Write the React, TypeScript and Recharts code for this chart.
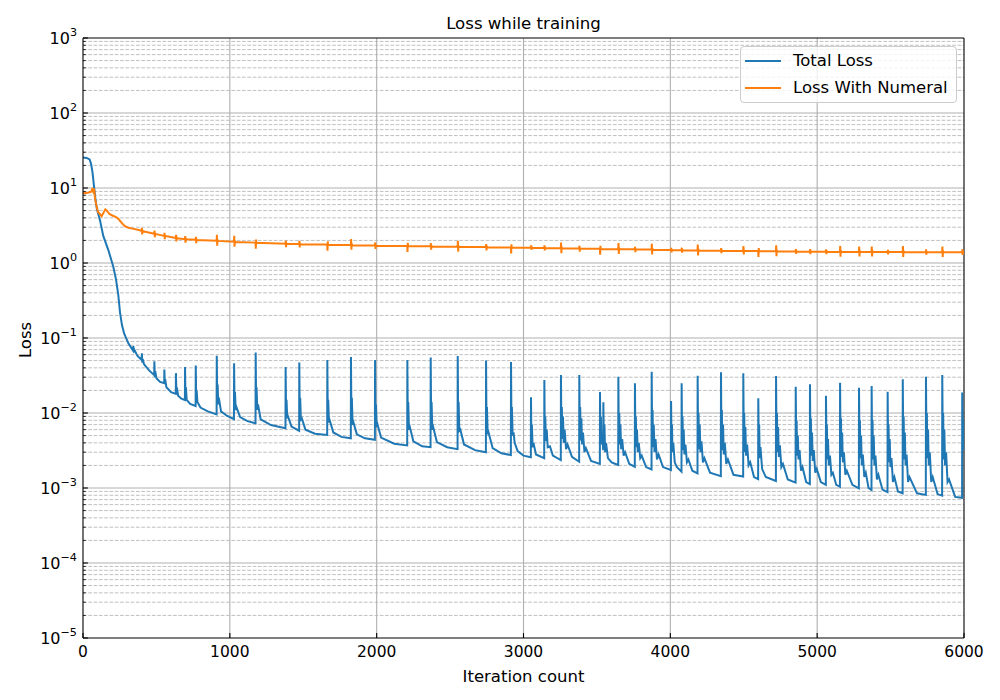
import React from 'react';
import { LineChart, Line, XAxis, YAxis, ReferenceLine, Legend, Label } from 'recharts';

const chartTitle = 'Loss while training';
const xLabel = 'Iteration count';
const yLabel = 'Loss';
const seriesNames = ['Total Loss', 'Loss With Numeral'];
const seriesColors = ['#1f77b4', '#ff7f0e'];

const xTicks = [0, 1000, 2000, 3000, 4000, 5000, 6000];
const yExponents = [-5, -4, -3, -2, -1, 0, 1, 2, 3];
const yMinorMultipliers = [2, 3, 4, 5, 6, 7, 8, 9];

// Total Loss: [iteration, loss]
const totalLossEarly: [number, number][] = [
  [0, 25.5], [25, 25.2], [45, 24], [55, 21], [65, 16], [75, 10.5], [85, 7], [95, 5.2], [116, 3.7], [138, 2.3],
  [172, 1.5], [206, 0.9], [225, 0.6], [240, 0.38], [252, 0.22], [265, 0.15], [280, 0.115], [309, 0.085], [341, 0.068],
  [343, 0.078], [346, 0.064], [349, 0.07], [370, 0.058], [399, 0.051],
  [401, 0.0625], [404, 0.047], [407, 0.052], [415, 0.045], [450, 0.037], [485, 0.032],
  [486, 0.049], [489, 0.03], [492, 0.036], [500, 0.029], [525, 0.026], [553, 0.025],
  [554, 0.038], [557, 0.024], [560, 0.028], [568, 0.022], [600, 0.019], [632, 0.018],
  [633, 0.034], [636, 0.019], [639, 0.022], [648, 0.017], [670, 0.0155], [694, 0.0149],
  [695, 0.041], [698, 0.016], [701, 0.022], [706, 0.015], [730, 0.0132], [767, 0.0124],
  [768, 0.043], [771, 0.015], [774, 0.02], [779, 0.014], [800, 0.0118], [850, 0.0105], [910, 0.0096],
  [911, 0.058], [914, 0.016], [917, 0.024], [921, 0.013], [925, 0.016], [940, 0.0105], [980, 0.0092], [1028, 0.0083],
  [1029, 0.046], [1032, 0.013], [1035, 0.019], [1040, 0.011], [1045, 0.012], [1070, 0.0088], [1120, 0.0078], [1175, 0.0073],
  [1176, 0.064], [1179, 0.014], [1182, 0.022], [1187, 0.011], [1192, 0.013], [1210, 0.0082], [1280, 0.0069], [1379, 0.00625],
  [1380, 0.041], [1383, 0.01], [1386, 0.015], [1391, 0.0085], [1396, 0.009], [1420, 0.0066], [1472, 0.0058],
  [1473, 0.047], [1476, 0.01], [1479, 0.016], [1484, 0.0082], [1490, 0.0085], [1515, 0.006], [1580, 0.0053], [1663, 0.0051],
];

const totalLossMid: [number, number][] = [
  [1664, 0.051], [1667, 0.009], [1670, 0.015], [1675, 0.0075], [1680, 0.008], [1705, 0.0055], [1760, 0.0048], [1824, 0.0046],
  [1825, 0.056], [1828, 0.009], [1831, 0.016], [1836, 0.007], [1842, 0.0075], [1865, 0.0052], [1920, 0.0046], [1988, 0.0044],
  [1989, 0.051], [1992, 0.008], [1995, 0.013], [2000, 0.0065], [2006, 0.007], [2030, 0.0047], [2120, 0.0039], [2208, 0.0037],
  [2209, 0.051], [2212, 0.008], [2215, 0.014], [2220, 0.006], [2226, 0.0065], [2250, 0.0042], [2310, 0.0036], [2367, 0.0035],
  [2368, 0.055], [2371, 0.008], [2374, 0.014], [2379, 0.006], [2385, 0.0065], [2410, 0.0041], [2480, 0.0035], [2551, 0.0033],
  [2552, 0.0575], [2555, 0.008], [2558, 0.014], [2563, 0.0058], [2570, 0.006], [2595, 0.0038], [2670, 0.0032], [2744, 0.003],
  [2745, 0.05], [2748, 0.007], [2751, 0.012], [2756, 0.0052], [2762, 0.0055], [2790, 0.0034], [2850, 0.0029], [2914, 0.00275],
  [2915, 0.048], [2918, 0.007], [2921, 0.012], [2926, 0.005], [2932, 0.0055], [2940, 0.004], [2960, 0.0031], [3000, 0.0027], [3050, 0.00257],
  [3051, 0.0162], [3054, 0.004], [3057, 0.007], [3062, 0.0035], [3068, 0.004], [3085, 0.0028], [3141, 0.0025],
  [3142, 0.0275], [3145, 0.005], [3148, 0.009], [3153, 0.0042], [3158, 0.006], [3165, 0.0035], [3180, 0.0036], [3200, 0.0027], [3254, 0.00236],
  [3255, 0.032], [3258, 0.006], [3261, 0.012], [3265, 0.0045], [3269, 0.009], [3274, 0.004], [3280, 0.006], [3290, 0.0033], [3300, 0.0038], [3330, 0.0026], [3379, 0.00224],
  [3380, 0.032], [3383, 0.006], [3386, 0.012], [3390, 0.0043], [3394, 0.0085], [3399, 0.0038], [3405, 0.0055], [3415, 0.003], [3425, 0.0034], [3460, 0.0023], [3520, 0.0021],
];

const totalLossLate: [number, number][] = [
  [3521, 0.019], [3524, 0.005], [3527, 0.009], [3531, 0.0038], [3536, 0.005], [3543, 0.0032],
  [3544, 0.0139], [3547, 0.004], [3551, 0.007], [3556, 0.003], [3562, 0.004], [3575, 0.0025], [3600, 0.0022], [3645, 0.00203],
  [3646, 0.0305], [3649, 0.005], [3652, 0.01], [3656, 0.0038], [3660, 0.007], [3665, 0.0033], [3672, 0.0045], [3682, 0.0027], [3692, 0.003], [3720, 0.0021], [3758, 0.00192],
  [3759, 0.0249], [3762, 0.0045], [3765, 0.009], [3769, 0.0035], [3773, 0.006], [3778, 0.003], [3785, 0.004], [3795, 0.0025], [3805, 0.0027], [3835, 0.0019], [3872, 0.00177],
  [3873, 0.0356], [3876, 0.005], [3879, 0.011], [3883, 0.0035], [3887, 0.007], [3892, 0.003], [3899, 0.0045], [3909, 0.0024], [3920, 0.0028], [3950, 0.0019], [4004, 0.00174],
  [4005, 0.0145], [4008, 0.004], [4011, 0.007], [4015, 0.003], [4020, 0.004], [4030, 0.0022], [4045, 0.0019], [4076, 0.00165],
  [4077, 0.0249], [4080, 0.0045], [4083, 0.009], [4087, 0.0032], [4091, 0.006], [4096, 0.0028], [4103, 0.0038], [4113, 0.0022], [4123, 0.0024], [4150, 0.0017], [4185, 0.00157],
  [4186, 0.0314], [4189, 0.005], [4192, 0.01], [4196, 0.0033], [4200, 0.007], [4205, 0.003], [4212, 0.0042], [4222, 0.0022], [4232, 0.0025], [4270, 0.0016], [4344, 0.00144],
  [4345, 0.0349], [4348, 0.005], [4351, 0.011], [4355, 0.0032], [4359, 0.007], [4364, 0.0028], [4371, 0.004], [4381, 0.0021], [4392, 0.0024], [4430, 0.0015], [4496, 0.00142],
  [4497, 0.0338], [4500, 0.005], [4503, 0.01], [4507, 0.003], [4511, 0.0065], [4516, 0.0027], [4523, 0.0038], [4533, 0.002], [4544, 0.0022], [4570, 0.0014], [4598, 0.00131],
  [4599, 0.0157], [4602, 0.004], [4605, 0.007], [4609, 0.0025], [4614, 0.0035], [4625, 0.0018], [4650, 0.0014], [4719, 0.00124],
  [4720, 0.0311], [4723, 0.005], [4726, 0.01], [4730, 0.003], [4734, 0.0065], [4739, 0.0026], [4746, 0.0037], [4756, 0.0019], [4767, 0.0021], [4800, 0.0013], [4853, 0.00118],
  [4854, 0.0224], [4857, 0.0045], [4860, 0.008], [4864, 0.0027], [4868, 0.005], [4873, 0.0024], [4880, 0.0032], [4890, 0.0017], [4900, 0.0019], [4925, 0.0012], [4950, 0.00113],
  [4951, 0.0241], [4954, 0.0045], [4957, 0.0085], [4961, 0.0027], [4965, 0.0055], [4970, 0.0023], [4977, 0.0032], [4987, 0.0016], [4997, 0.0018], [5025, 0.0012], [5059, 0.0011],
  [5060, 0.017], [5063, 0.004], [5066, 0.007], [5070, 0.0024], [5074, 0.0045], [5079, 0.002], [5087, 0.0027], [5097, 0.0015], [5107, 0.0016], [5130, 0.0011], [5155, 0.00104],
  [5156, 0.0253], [5159, 0.0045], [5162, 0.0085], [5166, 0.0026], [5170, 0.0055], [5175, 0.0022], [5182, 0.003], [5192, 0.0015], [5202, 0.0017], [5240, 0.0011], [5284, 0.00099],
  [5285, 0.0217], [5288, 0.004], [5291, 0.008], [5295, 0.0025], [5299, 0.005], [5304, 0.002], [5311, 0.0028], [5321, 0.0014], [5331, 0.0016], [5350, 0.001], [5370, 0.00094],
  [5371, 0.0229], [5374, 0.004], [5377, 0.008], [5381, 0.0024], [5385, 0.005], [5390, 0.002], [5397, 0.0027], [5407, 0.0013], [5417, 0.0015], [5445, 0.00095], [5479, 0.00088],
  [5480, 0.0192], [5483, 0.004], [5486, 0.007], [5490, 0.0022], [5494, 0.0045], [5499, 0.0019], [5506, 0.0025], [5516, 0.0012], [5526, 0.0014], [5550, 0.0009], [5582, 0.00085],
  [5583, 0.0281], [5586, 0.0045], [5589, 0.009], [5593, 0.0024], [5597, 0.0055], [5602, 0.002], [5609, 0.0028], [5619, 0.0012], [5629, 0.0014], [5680, 0.00085], [5740, 0.00081],
  [5741, 0.0305], [5744, 0.005], [5747, 0.01], [5751, 0.0025], [5755, 0.006], [5760, 0.002], [5767, 0.003], [5777, 0.0012], [5787, 0.0014], [5820, 0.00083], [5851, 0.00079],
  [5852, 0.032], [5855, 0.005], [5858, 0.01], [5862, 0.0024], [5866, 0.006], [5871, 0.002], [5878, 0.003], [5888, 0.0012], [5898, 0.0013], [5940, 0.00076], [5987, 0.00074],
  [5988, 0.0187], [5991, 0.004], [5994, 0.008], [5997, 0.0035], [6000, 0.0032],
];

// Loss With Numeral: [iteration, loss]
const numeralLossEarly: [number, number][] = [
  [0, 8.5], [20, 8.6], [40, 8.7], [55, 8.9], [62, 9.6], [68, 9.0], [75, 9.9], [82, 7.2], [92, 5.8], [102, 4.8],
  [115, 4.5], [127, 4.2], [140, 4.7], [152, 5.2], [165, 4.9], [180, 4.5], [200, 4.3], [225, 4.1], [245, 3.8],
  [265, 3.4], [285, 3.1], [310, 2.95], [345, 2.85], [380, 2.75],
  [399, 2.67], [401, 2.94], [403, 2.4], [405, 2.75], [407, 2.66],
  [485, 2.45], [487, 2.7], [489, 2.2], [491, 2.52], [493, 2.44],
  [553, 2.3], [555, 2.53], [557, 2.07], [559, 2.37], [561, 2.29],
  [632, 2.15], [634, 2.37], [636, 1.94], [638, 2.22], [640, 2.14],
  [694, 2.08], [696, 2.29], [698, 1.87], [700, 2.15], [702, 2.07],
  [767, 2.04], [769, 2.24], [771, 1.84], [773, 2.1], [775, 2.03],
  [910, 1.98], [912, 2.38], [914, 1.7], [916, 2.06], [918, 1.97],
  [1028, 1.92], [1030, 2.3], [1032, 1.65], [1034, 2.0], [1036, 1.91],
  [1175, 1.87], [1177, 1.55], [1179, 2.06], [1181, 1.8], [1183, 1.86],
  [1379, 1.81], [1381, 1.99], [1383, 1.63], [1385, 1.87], [1387, 1.8],
  [1472, 1.79], [1474, 1.97], [1476, 1.61], [1478, 1.85], [1480, 1.78],
];

const numeralLossMid: [number, number][] = [
  [1663, 1.76], [1665, 1.46], [1667, 1.94], [1669, 1.7], [1671, 1.75],
  [1824, 1.74], [1826, 2.09], [1828, 1.5], [1830, 1.82], [1832, 1.73],
  [1988, 1.71], [1990, 1.88], [1992, 1.54], [1994, 1.76], [1996, 1.7],
  [2208, 1.69], [2210, 1.4], [2212, 1.86], [2214, 1.64], [2216, 1.68],
  [2367, 1.67], [2369, 1.84], [2371, 1.5], [2373, 1.72], [2375, 1.66],
  [2551, 1.65], [2553, 1.98], [2555, 1.42], [2557, 1.72], [2559, 1.64],
  [2744, 1.63], [2746, 1.79], [2748, 1.47], [2750, 1.68], [2752, 1.62],
  [2914, 1.61], [2916, 1.34], [2918, 1.77], [2920, 1.56], [2922, 1.6],
  [3050, 1.6], [3052, 1.72], [3054, 1.5], [3056, 1.64], [3058, 1.59],
  [3141, 1.59], [3143, 1.72], [3145, 1.47], [3147, 1.63], [3149, 1.58],
  [3254, 1.57], [3256, 1.88], [3258, 1.35], [3260, 1.64], [3262, 1.56],
  [3379, 1.56], [3381, 1.7], [3383, 1.42], [3385, 1.6], [3387, 1.55],
  [3520, 1.55], [3522, 1.29], [3524, 1.7], [3526, 1.5], [3528, 1.54],
  [3645, 1.53], [3647, 1.84], [3649, 1.32], [3651, 1.6], [3653, 1.52],
  [3758, 1.52], [3760, 1.65], [3762, 1.39], [3764, 1.56], [3766, 1.51],
];

const numeralLossLate: [number, number][] = [
  [3872, 1.51], [3874, 1.81], [3876, 1.3], [3878, 1.58], [3880, 1.5],
  [4004, 1.49], [4006, 1.6], [4008, 1.38], [4010, 1.53], [4012, 1.48],
  [4076, 1.48], [4078, 1.6], [4080, 1.37], [4082, 1.52], [4084, 1.47],
  [4185, 1.47], [4187, 1.76], [4189, 1.26], [4191, 1.54], [4193, 1.46],
  [4344, 1.46], [4346, 1.58], [4348, 1.35], [4350, 1.5], [4352, 1.45],
  [4496, 1.45], [4498, 1.68], [4500, 1.3], [4502, 1.51], [4504, 1.44],
  [4598, 1.44], [4600, 1.2], [4602, 1.58], [4604, 1.4], [4606, 1.43],
  [4719, 1.43], [4721, 1.72], [4723, 1.23], [4725, 1.5], [4727, 1.42],
  [4853, 1.42], [4855, 1.54], [4857, 1.32], [4859, 1.46], [4861, 1.41],
  [4950, 1.415], [4952, 1.53], [4954, 1.31], [4956, 1.45], [4958, 1.41],
  [5059, 1.41], [5061, 1.52], [5063, 1.31], [5065, 1.45], [5067, 1.405],
  [5155, 1.41], [5157, 1.69], [5159, 1.21], [5161, 1.48], [5163, 1.405],
  [5284, 1.405], [5286, 1.66], [5288, 1.22], [5290, 1.47], [5292, 1.4],
  [5370, 1.4], [5372, 1.66], [5374, 1.22], [5376, 1.47], [5378, 1.4],
  [5479, 1.4], [5481, 1.5], [5483, 1.3], [5485, 1.44], [5487, 1.4],
  [5582, 1.4], [5584, 1.68], [5586, 1.2], [5588, 1.47], [5590, 1.395],
  [5740, 1.395], [5742, 1.52], [5744, 1.29], [5746, 1.44], [5748, 1.39],
  [5851, 1.39], [5853, 1.66], [5855, 1.2], [5857, 1.46], [5859, 1.39],
  [5987, 1.39], [5989, 1.52], [5991, 1.28], [5993, 1.44], [5995, 1.39], [6000, 1.39],
];

const totalLossData = [...totalLossEarly, ...totalLossMid, ...totalLossLate].map(([x, v]) => ({ x, v }));
const numeralLossData = [...numeralLossEarly, ...numeralLossMid, ...numeralLossLate].map(([x, v]) => ({ x, v }));

const yMajorTicks = yExponents.map((e) => Math.pow(10, e));
const yMinorTicks: number[] = [];
yExponents.slice(0, -1).forEach((e) => {
  yMinorMultipliers.forEach((m) => yMinorTicks.push(m * Math.pow(10, e)));
});
const yAllTicks = [...yMajorTicks, ...yMinorTicks].sort((a, b) => a - b);

const FONT = 'DejaVu Sans';
const GRID = '#b0b0b0';

const isMajor = (v: number) => {
  const e = Math.round(Math.log10(v));
  return Math.abs(v - Math.pow(10, e)) < 1e-6 * Math.pow(10, e);
};

const YTick = (props: any) => {
  const { x, y, payload } = props;
  const v = payload.value as number;
  const major = isMajor(v);
  const e = Math.round(Math.log10(v));
  return (
    <g>
      <line x1={x} y1={y} x2={x + (major ? 4.9 : 2.8)} y2={y} stroke="#000" strokeWidth={major ? 1.1 : 0.8} />
      {major && (
        <text x={x - 6} y={y + 6.2} textAnchor="end" fontSize={16} fontFamily={FONT} fill="#000">
          <tspan>10</tspan>
          <tspan dy={-8.6} fontSize={11.2}>{e < 0 ? '\u2212' + String(-e) : String(e)}</tspan>
        </text>
      )}
    </g>
  );
};

const XTick = (props: any) => {
  const { x, y, payload } = props;
  return (
    <g>
      <line x1={x} y1={y} x2={x} y2={y - 4.9} stroke="#000" strokeWidth={1.1} />
      <text x={x} y={y + 19} textAnchor="middle" fontSize={15.5} fontFamily={FONT} fill="#000">
        {payload.value}
      </text>
    </g>
  );
};

const renderLegend = () => (
  <div
    style={{
      position: 'relative',
      boxSizing: 'border-box',
      width: 217,
      height: 57,
      border: '1px solid #cccccc',
      borderRadius: 4,
      background: 'rgba(255,255,255,0.8)',
      fontFamily: FONT,
      fontSize: 16.5,
      color: '#000',
    }}
  >
    {seriesNames.map((name, i) => (
      <div key={name} style={{ position: 'absolute', left: 0, top: 3 + i * 27, height: 22, width: 215 }}>
        <div style={{ position: 'absolute', left: 4, top: 10, width: 36, height: 2.1, background: seriesColors[i] }} />
        <div style={{ position: 'absolute', left: 52, top: 0, lineHeight: '22px', whiteSpace: 'nowrap' }}>{name}</div>
      </div>
    ))}
  </div>
);

export default function App() {
  return (
    <div style={{ position: 'absolute', left: 0, top: 0, width: 1000, height: 700, background: '#fff' }}>
      <LineChart width={1000} height={700} margin={{ top: 38, right: 36, bottom: 32, left: 23 }}>
        <XAxis
          type="number"
          dataKey="x"
          domain={[0, 6000]}
          ticks={xTicks}
          interval={0}
          allowDataOverflow
          tickLine={false}
          tickSize={0}
          tickMargin={0}
          height={30}
          axisLine={{ stroke: '#000', strokeWidth: 1.1 }}
          tick={<XTick />}
        >
          <Label
            content={(p: any) => {
              const vb = p.viewBox;
              return (
                <text x={vb.x + vb.width / 2} y={vb.y + 43.5} textAnchor="middle" fontSize={16.5} fontFamily={FONT} fill="#000">
                  {xLabel}
                </text>
              );
            }}
          />
        </XAxis>
        <YAxis
          type="number"
          scale="log"
          domain={[1e-5, 1e3]}
          ticks={yAllTicks}
          interval={0}
          allowDataOverflow
          tickLine={false}
          tickSize={0}
          tickMargin={0}
          width={60}
          axisLine={{ stroke: '#000', strokeWidth: 1.1 }}
          tick={<YTick />}
        >
          <Label
            content={(p: any) => {
              const vb = p.viewBox;
              const cx = vb.x + 7.5;
              const cy = vb.y + vb.height / 2 + 2;
              return (
                <text x={cx} y={cy} transform={`rotate(-90, ${cx}, ${cy})`} textAnchor="middle" fontSize={16.5} fontFamily={FONT} fill="#000">
                  {yLabel}
                </text>
              );
            }}
          />
        </YAxis>

        {yMinorTicks.map((v) => (
          <ReferenceLine key={'ym' + v} y={v} stroke={GRID} strokeWidth={0.8} strokeDasharray="3.7 1.6" />
        ))}
        {yMajorTicks.slice(1, -1).map((v) => (
          <ReferenceLine key={'yM' + v} y={v} stroke={GRID} strokeWidth={1.1} />
        ))}
        {xTicks.slice(1, -1).map((v) => (
          <ReferenceLine key={'xM' + v} x={v} stroke={GRID} strokeWidth={1.1} />
        ))}
        <ReferenceLine y={1e3} stroke="#000" strokeWidth={1.1} />
        <ReferenceLine x={6000} stroke="#000" strokeWidth={1.1} />

        <Line
          data={totalLossData}
          dataKey="v"
          name={seriesNames[0]}
          type="linear"
          stroke={seriesColors[0]}
          strokeWidth={2}
          dot={false}
          activeDot={false}
          isAnimationActive={false}
        />
        <Line
          data={numeralLossData}
          dataKey="v"
          name={seriesNames[1]}
          type="linear"
          stroke={seriesColors[1]}
          strokeWidth={2}
          dot={false}
          activeDot={false}
          isAnimationActive={false}
        />
        <Legend
          layout="horizontal"
          verticalAlign="middle"
          align="center"
          wrapperStyle={{ left: 740, top: 46, width: 217, height: 57 }}
          content={renderLegend}
        />
        <text x={523.5} y={29.3} textAnchor="middle" fontSize={16.6} fontFamily={FONT} fill="#000">
          {chartTitle}
        </text>
      </LineChart>
    </div>
  );
}
